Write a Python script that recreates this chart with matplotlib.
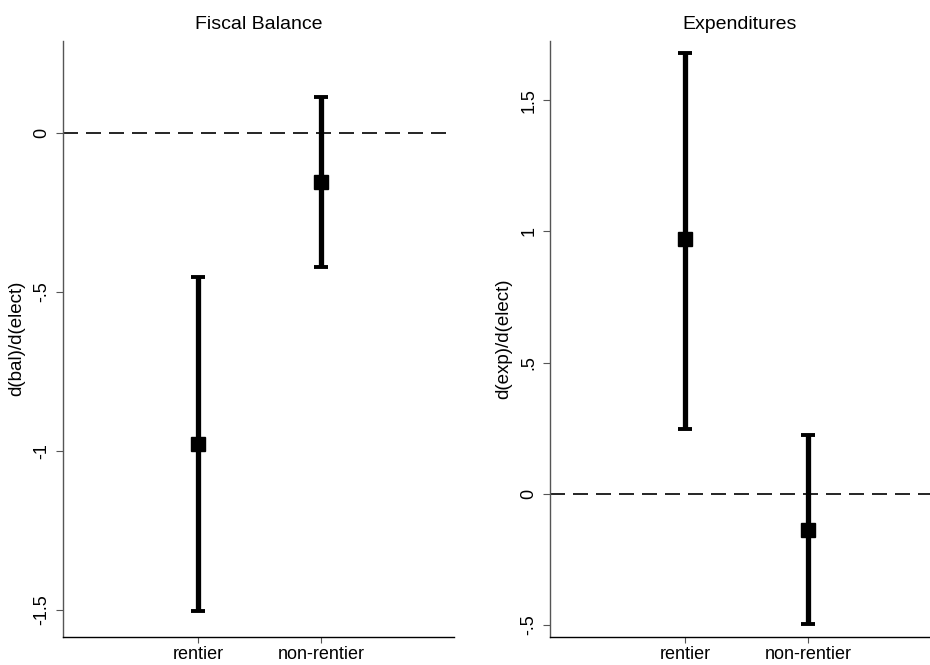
import matplotlib
matplotlib.use("Agg")
import matplotlib.pyplot as plt

plt.rcParams["font.family"] = ["Liberation Sans", "DejaVu Sans"]

groups = ["rentier", "non-rentier"]
xpos = [1, 2]

# fiscal balance: point estimate and 95% interval
bal_est = [-0.979, -0.156]
bal_lo = [-1.504, -0.421]
bal_hi = [-0.452, 0.111]

# expenditures
exp_est = [0.971, -0.137]
exp_lo = [0.247, -0.498]
exp_hi = [1.680, 0.226]

bal_ticks = [0, -0.5, -1, -1.5]
bal_ticklabels = ["0", "-.5", "-1", "-1.5"]
exp_ticks = [-0.5, 0, 0.5, 1, 1.5]
exp_ticklabels = ["-.5", "0", ".5", "1", "1.5"]

W, H = 930, 665
fig = plt.figure(figsize=(W / 100, H / 100), dpi=100)

bottom = 1 - 636.5 / H
height = (636.5 - 41) / H
ax1 = fig.add_axes([63 / W, bottom, (454 - 63) / W, height])
ax2 = fig.add_axes([550 / W, bottom, (930 - 550) / W, height])


def panel(ax, est, lo, hi, title, ylabel, ticks, ticklabels, ylim, xlim):
    ax.axhline(0, color="black", lw=1.2, linestyle=(0, (9, 4.8)), zorder=1)
    yerr = [[e - l for e, l in zip(est, lo)], [h - e for e, h in zip(est, hi)]]
    ax.errorbar(xpos, est, yerr=yerr, fmt="s", color="black", ms=10.5,
                elinewidth=3.8, capsize=5, capthick=2.8, zorder=3)
    ax.set_xlim(*xlim)
    ax.set_ylim(*ylim)
    ax.set_xticks(xpos)
    ax.set_xticklabels(groups, fontsize=13)
    ax.set_yticks(ticks)
    ax.set_yticklabels(ticklabels, fontsize=13, rotation=90, va="center")
    ax.set_ylabel(ylabel, fontsize=13.5, labelpad=6)
    ax.set_title(title, fontsize=14, pad=9)
    for s in ("top", "right"):
        ax.spines[s].set_visible(False)
    ax.spines["left"].set_color("#555555")
    ax.spines["left"].set_linewidth(1.0)
    ax.spines["bottom"].set_color("black")
    ax.spines["bottom"].set_linewidth(1.0)
    ax.tick_params(axis="y", length=5, width=0.8, color="#555555", pad=4)
    ax.tick_params(axis="x", length=4, width=0.8, color="#555555", pad=3)


panel(ax1, bal_est, bal_lo, bal_hi, "Fiscal Balance", "d(bal)/d(elect)",
      bal_ticks, bal_ticklabels, (-1.583, 0.288), (-0.098, 3.08))
panel(ax2, exp_est, exp_lo, exp_hi, "Expenditures", "d(exp)/d(elect)",
      exp_ticks, exp_ticklabels, (-0.544, 1.726), (-0.098, 2.99))

fig.savefig("out.png", dpi=100)
